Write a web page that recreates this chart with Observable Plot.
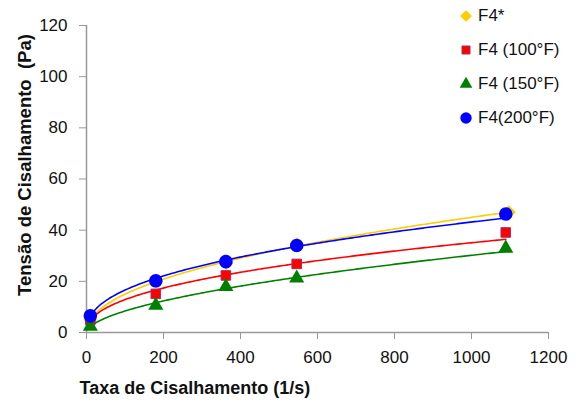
<!DOCTYPE html>
<html>
<head>
<meta charset="utf-8">
<script src="https://cdn.jsdelivr.net/npm/d3@7"></script>
<script src="https://cdn.jsdelivr.net/npm/@observablehq/plot@0.6"></script>
<style>
  html, body { margin: 0; padding: 0; background: #fff; }
  #wrap { position: relative; width: 579px; height: 412px; font-family: "Liberation Sans", Arial, sans-serif; }
  #legend { position: absolute; left: 456px; top: -1px; font-size: 17px; color: #111; }
  #legend .row { display: flex; align-items: center; height: 34px; white-space: pre; }
  #legend svg { width: 20px; height: 20px; margin-right: 2px; }
</style>
</head>
<body>
<div id="wrap"></div>
<script>
// ---- data ----
const seriesNames = ["F4*", "F4 (100°F)", "F4 (150°F)", "F4(200°F)"];
const ratesF4   = [10, 181, 363, 547, 1097];   // shear rate (1/s)
const rates     = [10, 180, 362, 546, 1089];
const tauF4     = [5.0, 19.8, 27.2, 34.5, 47.0]; // shear stress (Pa)
const tauF4_100 = [4.9, 15.1, 22.3, 26.8, 39.1];
const tauF4_150 = [2.4, 10.6, 17.9, 21.2, 32.9];
const tauF4_200 = [6.5, 20.2, 27.7, 34.0, 46.3];
const xTicks = [0, 200, 400, 600, 800, 1000, 1200];
const yTicks = [0, 20, 40, 60, 80, 100, 120];
const xTitle = "Taxa de Cisalhamento (1/s)";
const yTitle = "Tensão de Cisalhamento  (Pa)";

// ---- styling per series ----
const styles = [
  {x: ratesF4, y: tauF4,     color: "#FFCC00", symbol: "diamond2", r: 6.3, stroke: "none"},
  {x: rates,   y: tauF4_100, color: "#FF0000", symbol: "square",   r: 5.4, stroke: "#993366"},
  {x: rates,   y: tauF4_150, color: "#008000", symbol: "triangle", r: 5.6, stroke: "none"},
  {x: rates,   y: tauF4_200, color: "#0000FF", symbol: "circle",   r: 6.8, stroke: "none"}
];

// power-law trendline (least squares in log space, as a spreadsheet trendline)
function powerFit(xs, ys) {
  const lx = xs.map(Math.log), ly = ys.map(Math.log);
  const mx = d3.mean(lx), my = d3.mean(ly);
  const b = d3.sum(lx, (v, i) => (v - mx) * (ly[i] - my)) / d3.sum(lx, v => (v - mx) ** 2);
  const a = Math.exp(my - b * mx);
  const [x0, x1] = d3.extent(xs);
  return d3.range(0, 201).map(i => {
    const x = x0 + (x1 - x0) * i / 200;
    return {x, y: a * Math.pow(x, b)};
  });
}

const dotMarks = styles.map((s, k) => Plot.dot(
  s.x.map((x, i) => ({x, y: s.y[i]})),
  {x: "x", y: "y", symbol: () => s.symbol, r: s.r, fill: s.color,
   stroke: s.stroke, strokeWidth: 1}
));
const lineOrder = [0, 1, 2, 3];
const lineMarks = lineOrder.map(k => Plot.line(powerFit(styles[k].x, styles[k].y),
  {x: "x", y: "y", stroke: styles[k].color, strokeWidth: 1.6}));

const chart = Plot.plot({
  width: 579,
  height: 412,
  marginLeft: 86,
  marginRight: 31,
  marginTop: 25,
  marginBottom: 80,
  style: {fontFamily: '"Liberation Sans", Arial, sans-serif', fontSize: "17px", background: "white", color: "#111"},
  x: {domain: [0, 1200]},
  y: {domain: [0, 120]},
  marks: [
    Plot.axisX({ticks: xTicks, tickSize: 7, tickPadding: 11, stroke: "#999", fill: "#111", label: null, tickFormat: d => String(d)}),
    Plot.axisY({ticks: yTicks, tickSize: 7, tickPadding: 12, stroke: "#999", fill: "#111", label: null, tickFormat: d => String(d)}),
    Plot.ruleY([0], {stroke: "#999", strokeWidth: 1.5}),
    Plot.ruleX([0], {stroke: "#999", strokeWidth: 1.5}),
    ...lineMarks.slice(0, 3),
    ...dotMarks,
    lineMarks[3],
    Plot.text([xTitle], {frameAnchor: "bottom-left", textAnchor: "start", dx: -7, dy: 61, fontWeight: "bold", fontSize: 18, fill: "#111"}),
    Plot.text([yTitle], {frameAnchor: "left", textAnchor: "middle", rotate: -90, dx: -61, dy: -14, fontWeight: "bold", fontSize: 18.5, fill: "#111"})
  ]
});

const wrap = document.getElementById("wrap");
wrap.appendChild(chart);
chart.querySelectorAll("text").forEach(t => { t.setAttribute("xml:space", "preserve"); t.style.whiteSpace = "pre"; });

// legend
const legend = document.createElement("div");
legend.id = "legend";
const symMap = {diamond2: d3.symbolDiamond2, square: d3.symbolSquare, triangle: d3.symbolTriangle, circle: d3.symbolCircle};
styles.forEach((s, k) => {
  const row = document.createElement("div");
  row.className = "row";
  const svg = d3.create("svg").attr("viewBox", "-10 -10 20 20");
  svg.append("path")
    .attr("d", d3.symbol(symMap[s.symbol], Math.PI * s.r * s.r * 0.7)())
    .attr("fill", s.color)
    .attr("stroke", s.stroke)
    .attr("stroke-width", 1);
  row.appendChild(svg.node());
  const label = document.createElement("span");
  label.textContent = seriesNames[k];
  row.appendChild(label);
  legend.appendChild(row);
});
wrap.appendChild(legend);
</script>
</body>
</html>
